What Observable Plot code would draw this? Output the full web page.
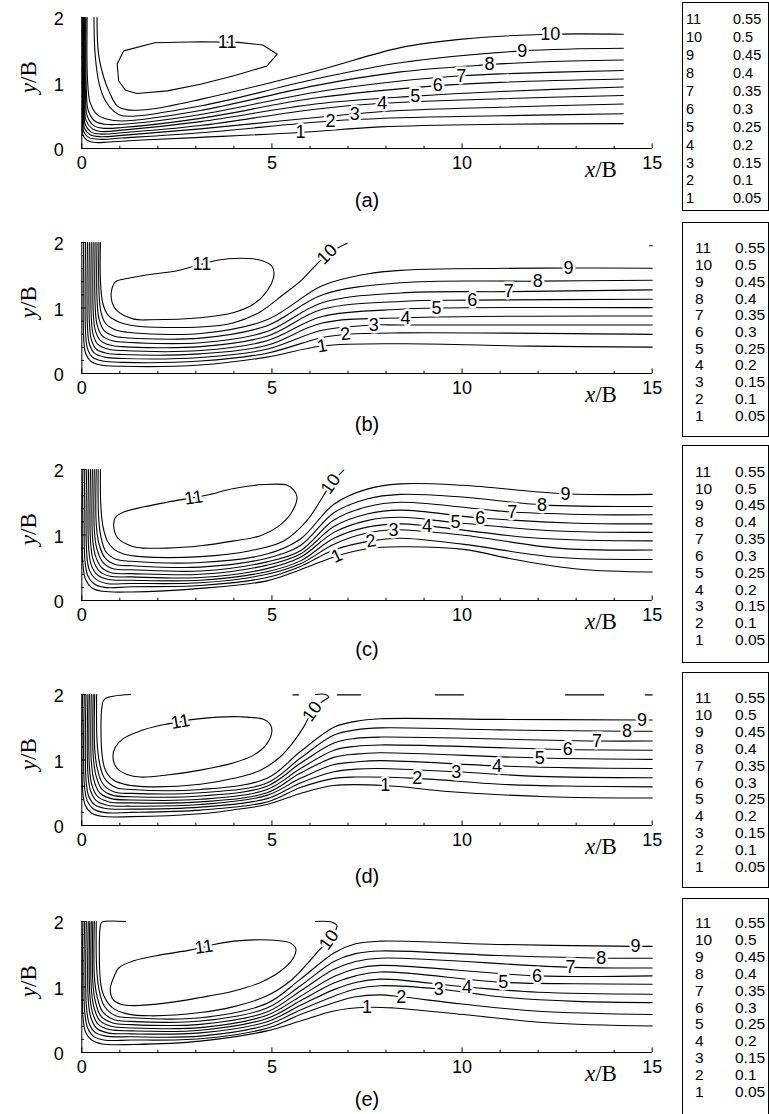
<!DOCTYPE html>
<html><head><meta charset="utf-8">
<script src="https://cdn.jsdelivr.net/npm/d3@7"></script>
<script src="https://cdn.jsdelivr.net/npm/@observablehq/plot@0.6"></script>
<style>
body{margin:0;background:#fff;}
#wrap{position:relative;width:769px;height:1114px;overflow:hidden;background:#fff;font-family:"Liberation Sans",Arial,sans-serif;}
.panel{position:absolute;left:0;}
.legend{position:absolute;left:682px;width:87px;border:1px solid #000;box-sizing:border-box;background:#fff;}
.ltxt{position:absolute;line-height:16px;color:#000;white-space:nowrap;}
</style></head><body><div id="wrap"></div>
<script>
// ---------- axis ticks ----------
const xMajor = [0, 5, 10, 15];
const xMinor = [1, 2, 3, 4, 6, 7, 8, 9, 11, 12, 13, 14];
const yMajor = [0, 1, 2];
const yMinor = [0.2, 0.4, 0.6, 0.8, 1.2, 1.4, 1.6, 1.8];
const panelNames = ["(a)", "(b)", "(c)", "(d)", "(e)"];
const legendNumbers = [11, 10, 9, 8, 7, 6, 5, 4, 3, 2, 1];
const legendValues = ["0.55", "0.5", "0.45", "0.4", "0.35", "0.3", "0.25", "0.2", "0.15", "0.1", "0.05"];

// ---------- panel (a) ----------
const loopA = [[1.10,1.49],[0.93,1.29],[0.97,1.03],[1.15,0.89],[1.45,0.84],[2.25,0.88],[3.12,0.98],[4.0,1.11],[4.87,1.26],[5.14,1.44],[4.76,1.58],[4.12,1.62],[3.12,1.63],[1.92,1.615]];
const linesA = [
 [[0.01,2],[0.02,0.5],[0.03,0.2],[0.14,0.127],[0.36,0.091],[0.71,0.10],[1.59,0.13],[3.12,0.17],[5.75,0.245],[7.85,0.33],[11,0.37],[14.24,0.38]],
 [[0.025,2],[0.035,0.55],[0.05,0.26],[0.18,0.17],[0.5,0.14],[1.06,0.16],[3.12,0.24],[6.54,0.42],[8.38,0.47],[11,0.50],[14.24,0.53]],
 [[0.04,2],[0.05,0.6],[0.07,0.31],[0.22,0.21],[0.5,0.18],[1.06,0.20],[3.12,0.30],[7.18,0.53],[8.38,0.58],[11,0.63],[14.24,0.68]],
 [[0.055,2],[0.065,0.65],[0.09,0.37],[0.25,0.25],[0.5,0.22],[1.06,0.24],[3.12,0.35],[6.14,0.60],[7.9,0.69],[11,0.76],[14.24,0.81]],
 [[0.07,2],[0.08,0.7],[0.11,0.43],[0.28,0.30],[0.5,0.26],[1.06,0.28],[3.12,0.41],[6.14,0.68],[8.77,0.80],[11,0.87],[14.24,0.94]],
 [[0.09,2],[0.10,0.78],[0.14,0.50],[0.31,0.35],[0.55,0.31],[1.06,0.32],[3.12,0.46],[6.14,0.77],[9.36,0.96],[11,1.01],[14.24,1.06]],
 [[0.11,2],[0.12,0.88],[0.17,0.58],[0.34,0.42],[0.6,0.37],[1.06,0.37],[3.12,0.52],[6.14,0.86],[8.38,1.03],[9.98,1.11],[11,1.14],[14.24,1.19]],
 [[0.14,2],[0.15,1.05],[0.22,0.70],[0.40,0.52],[0.65,0.45],[1.06,0.42],[3.12,0.58],[6.14,0.96],[8.38,1.17],[10.72,1.28],[12,1.32],[14.24,1.35]],
 [[0.32,2],[0.35,1.44],[0.46,0.98],[0.62,0.73],[0.84,0.57],[1.06,0.50],[3.12,0.65],[6.14,1.06],[8.38,1.31],[11.58,1.49],[14.24,1.53]],
 [[0.40,2],[0.44,1.44],[0.58,1.08],[0.71,0.88],[0.93,0.65],[1.2,0.59],[1.8,0.60],[3.12,0.75],[6.14,1.18],[8.38,1.54],[10,1.67],[12.3,1.745],[14.24,1.745]]
];
const labelsA = [[11,3.82,1.625,0],[10,12.32,1.745,0],[9,11.58,1.49,0],[8,10.72,1.28,0],[7,9.98,1.11,0],[6,9.36,0.96,0],[5,8.77,0.80,0],[4,7.9,0.69,0],[3,7.18,0.53,0],[2,6.54,0.42,0],[1,5.75,0.245,0]];

// ---------- panel (b) ----------
const loopB = [[0.885,1.40],[0.78,1.26],[0.80,1.08],[0.93,0.955],[1.37,0.83],[1.81,0.82],[3.12,0.85],[4.0,0.93],[4.52,1.06],[4.87,1.26],[5.05,1.49],[5.0,1.64],[4.70,1.73],[4.17,1.76],[3.56,1.73],[3.16,1.67],[2.51,1.57],[1.89,1.52],[1.19,1.45]];
const linesB = [
 [[0.05,2],[0.05,0.55],[0.10,0.31],[0.23,0.19],[0.49,0.13],[1.06,0.11],[3.12,0.13],[4.87,0.25],[6.32,0.42],[8.38,0.454],[11.8,0.418],[15,0.403]],
 [[0.10,2],[0.10,0.62],[0.15,0.38],[0.28,0.25],[0.55,0.19],[1.06,0.17],[3.12,0.19],[4.87,0.31],[6.32,0.55],[7.0,0.60],[8.38,0.62],[15,0.597]],
 [[0.15,2],[0.15,0.70],[0.20,0.45],[0.33,0.31],[0.60,0.25],[1.06,0.23],[3.12,0.245],[4.87,0.37],[6.32,0.66],[7.68,0.74],[8.38,0.74],[15,0.74]],
 [[0.20,2],[0.20,0.78],[0.25,0.52],[0.38,0.37],[0.66,0.31],[1.06,0.29],[3.12,0.30],[4.87,0.43],[6.32,0.77],[8.5,0.85],[15,0.878]],
 [[0.25,2],[0.25,0.86],[0.30,0.59],[0.43,0.44],[0.71,0.37],[1.06,0.35],[3.12,0.35],[4.87,0.50],[6.32,0.87],[8.38,0.98],[9.33,1.0],[15,1.005]],
 [[0.30,2],[0.30,0.95],[0.35,0.67],[0.48,0.51],[0.76,0.43],[1.06,0.41],[3.12,0.41],[4.87,0.57],[6.32,0.98],[8.38,1.10],[10.27,1.12],[15,1.133]],
 [[0.35,2],[0.35,1.05],[0.40,0.75],[0.53,0.58],[0.81,0.50],[1.06,0.48],[3.12,0.47],[4.87,0.64],[6.32,1.08],[8.38,1.23],[11.23,1.25],[15,1.276]],
 [[0.40,2],[0.40,1.15],[0.45,0.84],[0.58,0.66],[0.86,0.57],[1.06,0.55],[3.12,0.54],[4.87,0.73],[6.32,1.20],[8.38,1.385],[12,1.41],[15,1.424]],
 [[0.45,2],[0.45,1.28],[0.50,0.95],[0.63,0.76],[0.91,0.66],[1.2,0.63],[3.12,0.61],[4.87,0.82],[6.32,1.34],[7.5,1.52],[8.38,1.575],[12.8,1.61],[15,1.607]],
 [[0.49,2],[0.49,1.42],[0.55,1.08],[0.68,0.90],[0.96,0.79],[1.37,0.73],[3.12,0.71],[4.0,0.776],[4.70,0.944],[5.31,1.21],[5.75,1.41],[6.10,1.62],[6.45,1.82],[6.98,1.99]],
 [[14.93,1.95],[15,1.95]]
];
const labelsB = [[11,3.16,1.67,0],[10,6.45,1.82,-45],[9,12.8,1.61,0],[8,11.99,1.41,0],[7,11.23,1.25,0],[6,10.27,1.12,0],[5,9.33,1.0,0],[4,8.51,0.85,0],[3,7.68,0.74,0],[2,6.93,0.60,-8],[1,6.32,0.42,-10]];

// ---------- panel (c) ----------
const loopC = [[0.885,1.27],[0.84,1.13],[0.95,0.95],[1.19,0.86],[1.45,0.81],[2.24,0.80],[3.12,0.836],[4.0,0.91],[4.70,0.99],[5.14,1.12],[5.49,1.32],[5.66,1.58],[5.57,1.69],[5.40,1.76],[4.79,1.77],[4.0,1.71],[3.30,1.61],[2.94,1.57],[2.24,1.50],[1.63,1.43],[1.10,1.35]];
const linesC = [
 [[0.03,2],[0.03,0.55],[0.10,0.32],[0.27,0.19],[0.54,0.14],[1.3,0.13],[3.12,0.185],[4.87,0.30],[5.75,0.47],[6.71,0.68],[7.5,0.79],[8.38,0.82],[10.04,0.78],[11.35,0.63],[13.1,0.477],[15,0.435]],
 [[0.08,2],[0.08,0.63],[0.15,0.39],[0.31,0.26],[0.6,0.20],[1.3,0.21],[3.12,0.23],[4.87,0.35],[5.75,0.52],[6.63,0.77],[7.6,0.91],[8.38,0.95],[10,0.86],[12.5,0.66],[15,0.626]],
 [[0.13,2],[0.13,0.71],[0.20,0.46],[0.36,0.33],[0.65,0.26],[1.3,0.26],[3.12,0.27],[4.87,0.40],[5.75,0.56],[6.63,0.86],[7.5,1.03],[8.2,1.08],[10,1.0],[12.5,0.80],[15,0.77]],
 [[0.18,2],[0.18,0.80],[0.25,0.54],[0.41,0.39],[0.70,0.32],[1.3,0.31],[3.12,0.31],[4.87,0.44],[5.75,0.605],[6.63,0.95],[7.5,1.12],[8.38,1.17],[9.08,1.14],[12,0.95],[15,0.91]],
 [[0.23,2],[0.23,0.89],[0.30,0.62],[0.46,0.45],[0.75,0.37],[1.3,0.36],[3.12,0.35],[4.87,0.487],[5.75,0.66],[6.63,1.04],[7.5,1.22],[8.38,1.27],[9.83,1.19],[12.5,1.06],[15,1.04]],
 [[0.28,2],[0.28,0.98],[0.35,0.70],[0.51,0.51],[0.80,0.42],[1.3,0.41],[3.12,0.40],[4.87,0.54],[5.75,0.71],[6.63,1.13],[7.5,1.32],[8.38,1.38],[10.48,1.26],[13,1.18],[15,1.17]],
 [[0.33,2],[0.33,1.07],[0.40,0.78],[0.56,0.58],[0.85,0.48],[1.3,0.47],[3.12,0.45],[4.87,0.59],[5.75,0.76],[6.63,1.23],[7.5,1.43],[8.38,1.50],[11.32,1.35],[13.5,1.31],[15,1.31]],
 [[0.38,2],[0.38,1.17],[0.45,0.87],[0.61,0.65],[0.88,0.55],[1.3,0.53],[3.12,0.51],[4.87,0.646],[5.75,0.84],[6.63,1.34],[7.5,1.55],[8.38,1.62],[10,1.58],[12.1,1.46],[15,1.435]],
 [[0.43,2],[0.44,1.30],[0.50,0.98],[0.64,0.74],[0.9,0.63],[1.3,0.60],[3.12,0.58],[4.87,0.71],[5.75,0.94],[6.63,1.47],[7.5,1.70],[8.38,1.78],[10,1.76],[12.72,1.63],[15,1.62]],
 [[0.49,2],[0.50,1.45],[0.56,1.12],[0.68,0.90],[0.85,0.78],[1.10,0.71],[1.54,0.67],[3.12,0.67],[4.43,0.76],[5.31,0.91],[5.92,1.22],[6.28,1.53],[6.55,1.78],[6.89,1.99]]
];
const labelsC = [[11,2.94,1.57,-8],[10,6.55,1.78,-55],[9,12.72,1.63,0],[8,12.1,1.46,0],[7,11.32,1.35,0],[6,10.48,1.26,0],[5,9.83,1.19,0],[4,9.08,1.14,0],[3,8.2,1.08,0],[2,7.6,0.91,-10],[1,6.71,0.68,-25]];

// ---------- panel (d) ----------
const loopD = [[0.885,1.20],[0.82,1.04],[0.93,0.87],[1.19,0.78],[1.54,0.74],[2.24,0.77],[3.12,0.845],[4.0,0.957],[4.52,1.074],[4.87,1.25],[5.0,1.445],[4.94,1.557],[4.79,1.62],[4.17,1.66],[3.56,1.654],[2.94,1.62],[2.59,1.585],[2.07,1.53],[1.54,1.445],[1.10,1.33]];
const linesD = [
 [[0.02,2],[0.02,0.55],[0.09,0.31],[0.25,0.19],[0.52,0.14],[1.3,0.135],[3.12,0.18],[4.0,0.24],[4.87,0.32],[5.75,0.49],[6.63,0.61],[7.98,0.61],[9.61,0.52],[12.24,0.44],[15,0.42]],
 [[0.066,2],[0.066,0.63],[0.14,0.38],[0.29,0.26],[0.57,0.20],[1.3,0.20],[3.12,0.235],[4.87,0.36],[5.75,0.58],[6.63,0.72],[7.2,0.74],[8.82,0.72],[11,0.63],[13,0.60],[15,0.59]],
 [[0.11,2],[0.11,0.71],[0.18,0.45],[0.33,0.32],[0.62,0.26],[1.3,0.25],[3.12,0.28],[4.87,0.41],[5.75,0.65],[6.63,0.82],[7.2,0.86],[7.85,0.87],[9.85,0.82],[12,0.75],[15,0.73]],
 [[0.16,2],[0.16,0.80],[0.23,0.53],[0.38,0.38],[0.67,0.31],[1.3,0.295],[3.12,0.32],[4.87,0.46],[5.75,0.72],[6.63,0.93],[7.2,0.97],[7.85,0.99],[10.92,0.91],[13,0.88],[15,0.87]],
 [[0.20,2],[0.20,0.89],[0.27,0.61],[0.42,0.44],[0.72,0.36],[1.3,0.345],[3.12,0.36],[4.87,0.50],[5.75,0.80],[6.63,1.04],[7.2,1.09],[7.85,1.11],[12.04,1.03],[15,1.01]],
 [[0.25,2],[0.25,0.98],[0.32,0.69],[0.47,0.50],[0.77,0.41],[1.3,0.39],[3.12,0.40],[4.87,0.55],[5.75,0.87],[6.63,1.15],[7.2,1.21],[7.85,1.23],[12.78,1.16],[15,1.15]],
 [[0.30,2],[0.30,1.07],[0.37,0.77],[0.52,0.56],[0.82,0.46],[1.3,0.44],[3.12,0.45],[4.87,0.60],[5.75,0.95],[6.63,1.26],[7.2,1.33],[7.85,1.35],[13.55,1.29],[15,1.29]],
 [[0.34,2],[0.34,1.17],[0.41,0.86],[0.56,0.63],[0.86,0.51],[1.3,0.49],[3.12,0.50],[4.87,0.65],[5.75,1.03],[6.63,1.38],[7.2,1.46],[7.85,1.49],[11,1.46],[14.34,1.44],[15,1.44]],
 [[0.39,2],[0.40,1.30],[0.46,0.97],[0.60,0.72],[0.9,0.58],[1.3,0.55],[3.12,0.55],[4.87,0.72],[5.75,1.13],[6.63,1.50],[7.2,1.59],[7.85,1.63],[11,1.62],[14.73,1.61],[15,1.61]],
 [[1.28,2.0],[0.60,1.93],[0.53,1.81],[0.53,1.10],[0.62,0.845],[0.84,0.69],[1.19,0.62],[1.80,0.59],[3.12,0.63],[4.0,0.72],[4.70,0.845],[5.22,1.05],[5.57,1.28],[5.84,1.51],[6.06,1.74],[6.32,1.89],[6.49,1.96],[6.41,2.0],[6.14,2.0]],
 [[5.55,1.995],[5.70,1.995]],
 [[6.72,1.995],[7.33,1.995]],
 [[9.30,1.995],[10.04,1.995]],
 [[12.72,1.995],[13.73,1.995]],
 [[14.82,1.995],[15,1.995]]
];
const labelsD = [[11,2.59,1.585,-10],[10,6.06,1.74,-55],[9,14.73,1.61,0],[8,14.34,1.44,0],[7,13.55,1.29,0],[6,12.78,1.16,0],[5,12.04,1.03,0],[4,10.92,0.91,0],[3,9.85,0.82,0],[2,8.82,0.72,0],[1,7.98,0.61,0]];

// ---------- panel (e) ----------
const loopE = [[0.84,1.146],[0.75,0.98],[0.82,0.81],[1.02,0.737],[1.37,0.716],[2.24,0.757],[3.12,0.84],[4.0,0.94],[4.70,1.07],[5.22,1.24],[5.56,1.44],[5.63,1.58],[5.49,1.67],[5.14,1.71],[4.52,1.72],[4.0,1.70],[3.47,1.65],[3.21,1.61],[2.77,1.555],[2.07,1.49],[1.37,1.40],[0.97,1.29]];
const linesE = [
 [[0.03,2],[0.03,0.55],[0.10,0.31],[0.26,0.19],[0.53,0.13],[1.37,0.123],[3.12,0.174],[4.87,0.33],[5.75,0.48],[6.63,0.634],[7.5,0.69],[8.2,0.68],[10.04,0.58],[12.24,0.455],[15,0.405]],
 [[0.075,2],[0.075,0.63],[0.15,0.38],[0.30,0.25],[0.58,0.19],[1.3,0.19],[3.12,0.21],[4.87,0.37],[5.75,0.58],[6.63,0.76],[7.2,0.85],[7.85,0.88],[8.40,0.85],[10,0.74],[12,0.63],[15,0.58]],
 [[0.12,2],[0.12,0.71],[0.19,0.45],[0.34,0.31],[0.63,0.25],[1.3,0.24],[3.12,0.25],[4.87,0.42],[5.75,0.65],[6.63,0.86],[7.2,0.97],[7.85,1.02],[9.39,0.97],[11,0.85],[13,0.78],[15,0.762]],
 [[0.17,2],[0.17,0.80],[0.24,0.53],[0.39,0.37],[0.68,0.30],[1.3,0.285],[3.12,0.30],[4.87,0.47],[5.75,0.72],[6.63,0.96],[7.2,1.07],[7.85,1.12],[10.13,1.00],[12,0.92],[15,0.89]],
 [[0.21,2],[0.21,0.89],[0.28,0.61],[0.43,0.43],[0.73,0.35],[1.3,0.33],[3.12,0.34],[4.87,0.52],[5.75,0.79],[6.63,1.06],[7.2,1.17],[7.85,1.23],[11.08,1.07],[13,1.05],[15,1.043]],
 [[0.25,2],[0.25,0.98],[0.32,0.69],[0.47,0.49],[0.77,0.40],[1.3,0.375],[3.12,0.38],[4.87,0.57],[5.75,0.86],[6.63,1.16],[7.2,1.28],[7.85,1.33],[11.97,1.17],[15,1.17]],
 [[0.29,2],[0.29,1.07],[0.36,0.77],[0.51,0.55],[0.81,0.45],[1.3,0.425],[3.12,0.43],[4.87,0.62],[5.75,0.94],[6.63,1.27],[7.2,1.39],[7.85,1.44],[12.85,1.30],[15,1.29]],
 [[0.33,2],[0.33,1.17],[0.40,0.86],[0.55,0.62],[0.85,0.50],[1.3,0.475],[3.12,0.48],[4.87,0.68],[5.75,1.02],[6.63,1.39],[7.2,1.51],[7.85,1.55],[11,1.48],[13.66,1.44],[15,1.44]],
 [[0.38,2],[0.39,1.30],[0.45,0.97],[0.59,0.71],[0.89,0.56],[1.3,0.53],[3.12,0.53],[4.87,0.75],[5.75,1.12],[6.63,1.52],[7.2,1.66],[7.85,1.70],[11,1.65],[14.56,1.62],[15,1.62]],
 [[1.15,2.0],[0.53,1.99],[0.49,1.94],[0.49,1.09],[0.58,0.865],[0.80,0.686],[1.19,0.59],[1.80,0.56],[3.12,0.61],[4.0,0.70],[4.87,0.865],[5.49,1.095],[5.92,1.35],[6.23,1.555],[6.54,1.74],[6.67,1.86],[6.71,1.94],[6.58,1.99],[6.14,2.0]]
];
const labelsE = [[11,3.21,1.61,-8],[10,6.5,1.72,-55],[9,14.56,1.62,0],[8,13.66,1.44,0],[7,12.85,1.30,0],[6,11.97,1.17,0],[5,11.08,1.07,0],[4,10.13,1.00,0],[3,9.39,0.97,0],[2,8.40,0.85,0],[1,7.5,0.69,0]];

// ---------- drawing ----------
const sans = "Liberation Sans, Arial, Helvetica, sans-serif";
const serif = "Liberation Serif, Times New Roman, serif";

function drawPanel(lines, loop, labels, name, loopCurve, labelDy) {
  const rows = [];
  lines.forEach((pts, i) => pts.forEach(([x, y]) => rows.push({x, y, id: i})));
  const loopRows = loop.map(([x, y]) => ({x, y}));
  const lab = labels.map(([t, x, y, r]) => ({t: String(t), x, y, r}));
  return Plot.plot({
    width: 680, height: 210,
    marginLeft: 81.3, marginRight: 28.3, marginTop: 17, marginBottom: 62,
    x: {domain: [0, 15], axis: null},
    y: {domain: [0, 2], axis: null},
    style: {fontFamily: sans, background: "transparent", overflow: "visible"},
    marks: [
      Plot.ruleY([0], {x1: 0, x2: 15, stroke: "black", strokeWidth: 1}),
      Plot.ruleX([0], {y1: 0, y2: 2, stroke: "black", strokeWidth: 1}),
      Plot.ruleX(xMinor, {x: d => d, y1: 0, y2: 0.035, stroke: "black"}),
      Plot.ruleX(xMajor, {x: d => d, y1: 0, y2: 0.07, stroke: "black"}),
      Plot.ruleY(yMinor, {y: d => d, x1: 0, x2: 0.07, stroke: "black"}),
      Plot.ruleY(yMajor, {y: d => d, x1: 0, x2: 0.12, stroke: "black"}),
      Plot.line(rows, {x: "x", y: "y", z: "id", curve: "catmull-rom", stroke: "black", strokeWidth: 1.1}),
      Plot.line(loopRows, {x: "x", y: "y", curve: loopCurve, stroke: "black", strokeWidth: 1.1}),
      Plot.text(lab, {x: "x", y: "y", text: "t", rotate: "r", fontSize: 18, fill: "black", stroke: "white", strokeWidth: 5}),
      Plot.text(xMajor, {x: d => d, y: 0, text: d => String(d), dy: 15, fontSize: 18, fill: "black"}),
      Plot.text(yMajor, {x: 0, y: d => d, text: d => String(d), dx: -23, dy: 2, fontSize: 18, fill: "black"}),
      Plot.text(["x"], {x: 13.5, y: 0, text: d => d, dy: 21, textAnchor: "end", fontFamily: serif, fontStyle: "italic", fontSize: 23, fill: "black"}),
      Plot.text(["/B"], {x: 13.5, y: 0, text: d => d, dy: 21, textAnchor: "start", fontFamily: serif, fontSize: 23, fill: "black"}),
      Plot.text(["y"], {x: 0, y: 1.0, text: d => d, dx: -53, rotate: -90, textAnchor: "end", fontFamily: serif, fontStyle: "italic", fontSize: 23, fill: "black"}),
      Plot.text(["/B"], {x: 0, y: 1.0, text: d => d, dx: -53, rotate: -90, textAnchor: "start", fontFamily: serif, fontSize: 23, fill: "black"}),
      Plot.text([name], {x: 7.5, y: 0, text: d => d, dy: labelDy, fontSize: 20, fill: "black"})
    ]
  });
}

const wrap = document.getElementById("wrap");
const panels = [
  [linesA, loopA, labelsA, "linear-closed", -0.5, 52],
  [linesB, loopB, labelsB, "catmull-rom-closed", 224.7, 51],
  [linesC, loopC, labelsC, "catmull-rom-closed", 452.3, 49],
  [linesD, loopD, labelsD, "catmull-rom-closed", 677.3, 51],
  [linesE, loopE, labelsE, "catmull-rom-closed", 904, 47]
];
panels.forEach(([lines, loop, labels, curve, top, ldy], i) => {
  const div = document.createElement("div");
  div.className = "panel";
  div.style.top = top + "px";
  div.appendChild(drawPanel(lines, loop, labels, panelNames[i], curve, ldy));
  wrap.appendChild(div);
});

// legends: [boxTop, boxBottom, firstRowCenter, rowStep, col1X, col2X, fontSize]
const legendBoxes = [
  [2, 211, 19.3, 17.9, 686, 733, 14.5],
  [222, 437, 248.3, 16.74, 695, 735, 15.5],
  [445, 663, 471.7, 16.83, 695, 735, 15.5],
  [672, 888, 698.3, 16.84, 695, 735, 15.5],
  [898, 1120, 923.3, 16.84, 695, 735, 15.5]
];
legendBoxes.forEach(([t, b, r0, step, c1, c2, fs]) => {
  const box = document.createElement("div");
  box.className = "legend";
  box.style.top = t + "px";
  box.style.height = (b - t) + "px";
  wrap.appendChild(box);
  legendNumbers.forEach((n, j) => {
    const cy = r0 + j * step;
    [[String(n), c1], [legendValues[j], c2]].forEach(([txt, cx]) => {
      const s = document.createElement("span");
      s.className = "ltxt";
      s.textContent = txt;
      s.style.fontSize = fs + "px";
      s.style.left = cx + "px";
      s.style.top = (cy - 8) + "px";
      wrap.appendChild(s);
    });
  });
});
</script></body></html>
